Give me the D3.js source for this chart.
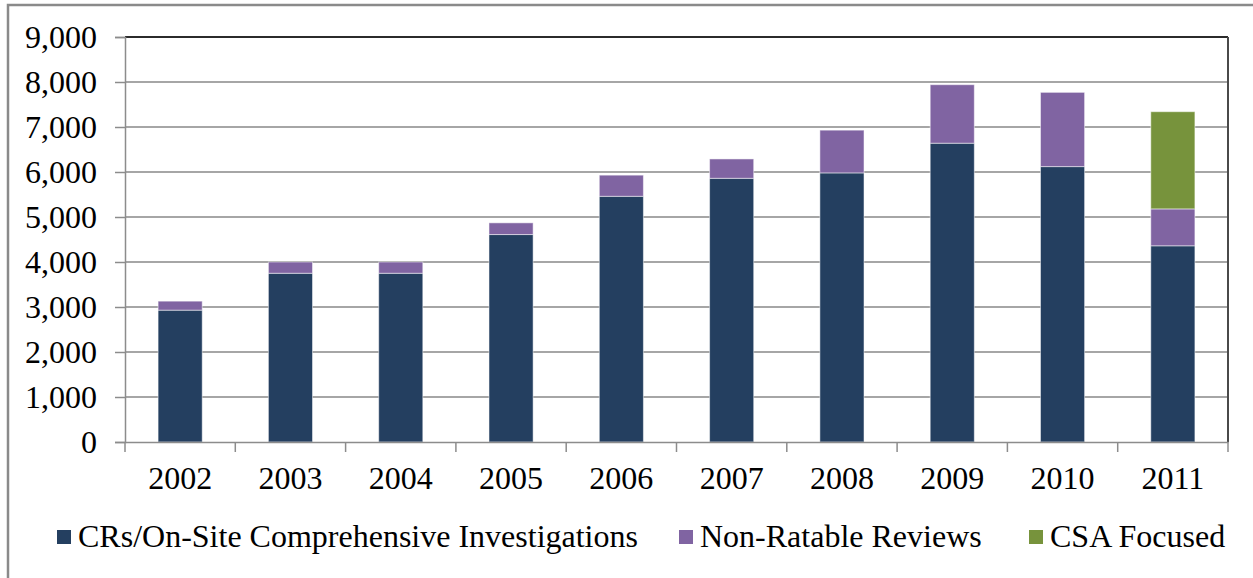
<!DOCTYPE html>
<html><head><meta charset="utf-8">
<script src="https://cdn.jsdelivr.net/npm/d3@7"></script>
<style>body{margin:0;background:#fff}svg{display:block}text{font-family:"Liberation Serif","Times New Roman",serif;fill:#000}</style>
</head><body><svg id="c" width="1253" height="578"></svg>
<script>
const years = ["2002","2003","2004","2005","2006","2007","2008","2009","2010","2011"];
const crs = [2930, 3750, 3750, 4610, 5460, 5860, 5980, 6640, 6120, 4360];
const nonRatable = [200, 250, 250, 260, 470, 430, 950, 1300, 1650, 820];
const csaFocused = [0, 0, 0, 0, 0, 0, 0, 0, 0, 2160];
const seriesNames = ["CRs/On-Site Comprehensive Investigations", "Non-Ratable Reviews", "CSA Focused"];
const seriesColors = ["#243F60", "#8064A2", "#77933C"];
const yTicks = [0,1000,2000,3000,4000,5000,6000,7000,8000,9000];

const svg = d3.select("#c");
const m = {l:125, r:1228, t:37, b:442};
const FS = 32;

// outer frame (cropped)
svg.append("rect").attr("x",8).attr("y",5).attr("width",1300).attr("height",700)
  .attr("fill","none").attr("stroke","#8a8a8a").attr("stroke-width",2.5);

const x = d3.scaleBand().domain(years).range([m.l, m.r]).paddingInner(0.6).paddingOuter(0.3);
const xb = d3.scaleBand().domain(years).range([m.l, m.r]);
const y = d3.scaleLinear().domain([0,9000]).range([m.b, m.t]);

// gridlines
svg.append("g").selectAll("line").data(yTicks.filter(d=>d>0 && d<9000)).join("line")
  .attr("x1",m.l).attr("x2",m.r).attr("y1",d=>y(d)).attr("y2",d=>y(d))
  .attr("stroke","#a6a6a6").attr("stroke-width",2);

// stacked data
const rows = years.map((yr,i)=>({year:yr, a:crs[i], b:nonRatable[i], c:csaFocused[i]}));
const stack = d3.stack().keys(["a","b","c"])(rows);
svg.append("g").selectAll("g").data(stack).join("g")
  .attr("fill",(d,i)=>seriesColors[i])
  .selectAll("rect").data(d=>d.filter(s=>s[1]-s[0]>0)).join("rect")
  .attr("x",d=>x(d.data.year)).attr("width",x.bandwidth())
  .attr("y",d=>y(d[1])).attr("height",d=>y(d[0])-y(d[1]))
  .attr("stroke","#ffffff").attr("stroke-opacity",0.5).attr("stroke-width",1);

// plot border top/right
svg.append("line").attr("x1",m.l).attr("x2",m.r).attr("y1",m.t).attr("y2",m.t).attr("stroke","#2b2b2b").attr("stroke-width",2);
svg.append("line").attr("x1",m.r).attr("x2",m.r).attr("y1",m.t).attr("y2",m.b).attr("stroke","#4a4a4a").attr("stroke-width",2);

// y axis
const ya = svg.append("g").attr("transform",`translate(${m.l},0)`)
  .call(d3.axisLeft(y).tickValues(yTicks).tickFormat(d3.format(",")).tickSize(10).tickPadding(18));
ya.select(".domain").attr("stroke","#8c8c8c").attr("stroke-width",1.5);
ya.selectAll(".tick line").attr("stroke","#8c8c8c").attr("stroke-width",1.5);
ya.selectAll("text").attr("font-size",FS).attr("font-family","Liberation Serif").attr("fill","#000");

// x axis
const xa = svg.append("g").attr("transform",`translate(0,${m.b})`)
  .call(d3.axisBottom(xb).tickSize(0).tickPadding(24));
xa.select(".domain").attr("stroke","#8c8c8c").attr("stroke-width",1.5);
xa.selectAll(".tick line").remove();
xa.selectAll("text").attr("font-size",FS).attr("font-family","Liberation Serif").attr("fill","#000");
// category separator ticks
svg.append("g").selectAll("line").data(years.concat(["end"])).join("line")
  .attr("x1",(d,i)=>m.l+i*xb.step()).attr("x2",(d,i)=>m.l+i*xb.step())
  .attr("y1",m.b).attr("y2",m.b+10).attr("stroke","#8c8c8c").attr("stroke-width",1.5);

// legend
const legX = [57, 679, 1029];
const leg = svg.append("g").selectAll("g").data(seriesNames).join("g")
  .attr("transform",(d,i)=>`translate(${legX[i]},530)`);
leg.append("rect").attr("width",14).attr("height",14).attr("fill",(d,i)=>seriesColors[i]);
leg.append("text").attr("x",21).attr("y",17).attr("font-size",FS).text(d=>d);
</script></body></html>
